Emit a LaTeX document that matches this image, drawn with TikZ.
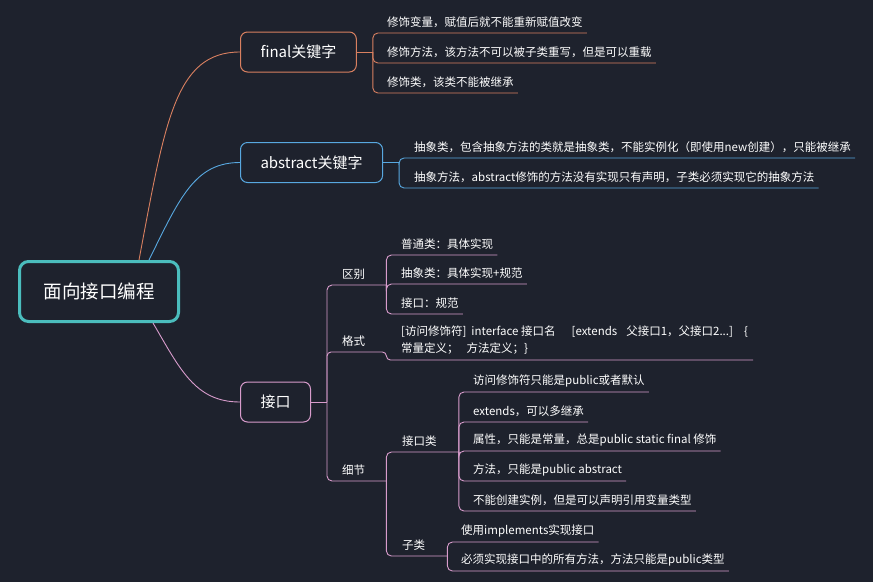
\documentclass[tikz,border=0pt]{standalone}
\usepackage{fontspec}
\newfontfamily\cjk{Noto Sans CJK SC}
\definecolor{hgrund}{HTML}{1E222D}
\definecolor{wurzelrand}{HTML}{4BBDBD}
\definecolor{orangeast}{HTML}{D98060}
\definecolor{blauast}{HTML}{58A8E0}
\definecolor{rosaast}{HTML}{D89CCC}
\begin{document}
\begin{tikzpicture}[x=1pt, y=-1pt,
  box/.style={draw, rounded corners=7pt, line width=1pt, text=white, font=\cjk\fontsize{15}{18}\selectfont, minimum height=40pt, inner xsep=20pt, anchor=west},
  blatt/.style={anchor=south west, inner xsep=0pt, inner ysep=5pt, text=white, font=\cjk\fontsize{11.5}{17}\selectfont},
  ast/.style={line width=0.9pt, rounded corners=5pt}]
    % Hintergrund
    \fill[hgrund] (0,0) rectangle (873,582);
    % Wurzel
    \node[draw=wurzelrand, line width=3pt, rounded corners=9pt, minimum width=159pt, minimum height=60pt, text=white, font=\cjk\fontsize{18.5}{22}\selectfont] (wurzel) at (99,291.5) {面向接口编程};

    % final
    \node[box, draw=orangeast] (fin) at (240,52) {final关键字};
    \draw[ast, orangeast] ([xshift=40pt]wurzel.north) .. controls +(26,-138) and +(-65,0) .. (fin.west);
    \coordinate (fb) at ([xshift=16pt]fin.east);
    \draw[ast, orangeast] (fin.east) -- (fb);
    \foreach \name/\yy/\txt in {f1/33/修饰变量，赋值后就不能重新赋值改变, f2/63/修饰方法，该方法不可以被子类重写，但是可以重载, f3/93/修饰类，该类不能被继承}{
        \node[blatt] (\name) at (387,\yy) {\txt};
        \draw[ast, orangeast] (fb) |- ([xshift=4pt]\name.south east);
    }

    % abstract
    \node[box, draw=blauast] (abs) at (240,162.5) {abstract关键字};
    \draw[ast, blauast] ([xshift=50pt]wurzel.north) .. controls +(31,-63) and +(-45,0) .. (abs.west);
    \coordinate (ab) at ([xshift=16pt]abs.east);
    \draw[ast, blauast] (abs.east) -- (ab);
    \foreach \name/\yy/\txt in {a1/158/抽象类，包含抽象方法的类就是抽象类，不能实例化（即使用new创建），只能被继承, a2/188/抽象方法，abstract修饰的方法没有实现只有声明，子类必须实现它的抽象方法}{
        \node[blatt] (\name) at (414,\yy) {\txt};
        \draw[ast, blauast] (ab) |- ([xshift=4pt]\name.south east);
    }

    % Schnittstelle
    \node[box, draw=rosaast] (schn) at (240,402) {接口};
    \draw[ast, rosaast] ([xshift=54pt]wurzel.south) .. controls +(27,46) and +(-45,0) .. (schn.west);
    \coordinate (jb) at ([xshift=16pt]schn.east);
    \draw[ast, rosaast] (schn.east) -- (jb);

    % 区别
    \node[blatt] (qu) at (342,285) {区别};
    \coordinate (qk) at ([xshift=21pt]qu.south east);
    \draw[ast, rosaast] (jb) |- (qk);
    \foreach \name/\yy/\txt in {q1/255/普通类：具体实现, q2/284/抽象类：具体实现+规范, q3/314/接口：规范}{
        \node[blatt] (\name) at (401,\yy) {\txt};
        \draw[ast, rosaast] (qk) |- ([xshift=4pt]\name.south east);
    }

    % 格式
    \node[blatt] (gs) at (342,352) {格式};
    \node[blatt, align=left] (g1) at (401,360) {[访问修饰符]\hspace{5pt}interface 接口名\hspace{16pt}[extends\hspace{9pt}父接口1，父接口2...]\hspace{11pt}\{\\常量定义；\hspace{8pt}方法定义；\}};
    \draw[ast, rosaast, rounded corners=4pt] (jb) |- ([xshift=21pt]gs.south east) |- ([xshift=5pt]g1.south east);

    % 细节
    \node[blatt] (xj) at (342,481) {细节};
    \coordinate (xk) at ([xshift=21pt]xj.south east);
    \draw[ast, rosaast] (jb) |- (xk);
    \node[blatt] (jl) at (402,452) {接口类};
    \coordinate (jk) at ([xshift=22pt]jl.south east);
    \draw[ast, rosaast] (xk) |- (jk);
    \foreach \name/\yy/\txt in {j1/392/访问修饰符只能是public或者默认, j2/422/extends，可以多继承, j3/451/属性，只能是常量，总是public static final 修饰, j4/481/方法，只能是public abstract, j5/511/不能创建实例，但是可以声明引用变量类型}{
        \node[blatt] (\name) at (473,\yy) {\txt};
        \draw[ast, rosaast] (jk) |- ([xshift=4pt]\name.south east);
    }
    \node[blatt] (zl) at (402,556) {子类};
    \coordinate (zk) at ([xshift=22pt]zl.south east);
    \draw[ast, rosaast] (xk) |- (zk);
    \foreach \name/\yy/\txt in {z1/542/使用implements实现接口, z2/571/必须实现接口中的所有方法，方法只能是public类型}{
        \node[blatt] (\name) at (461,\yy) {\txt};
        \draw[ast, rosaast] (zk) |- ([xshift=4pt]\name.south east);
    }
\end{tikzpicture}
\end{document}
